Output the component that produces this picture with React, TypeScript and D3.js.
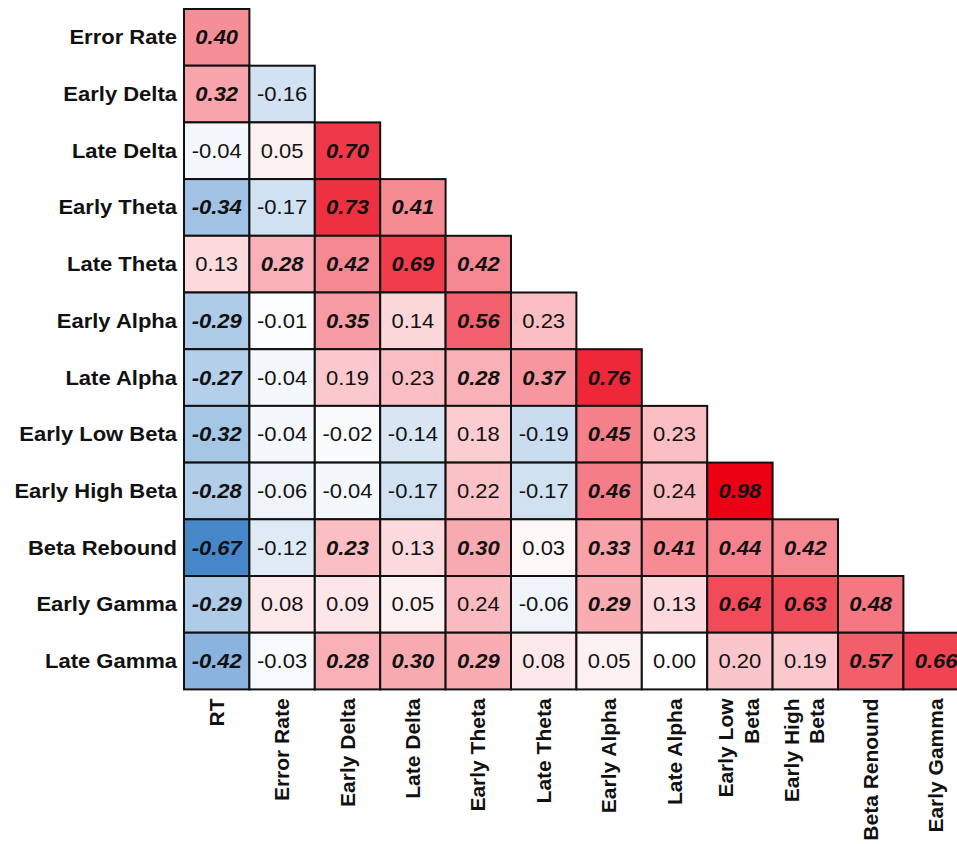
import React from "react";
import * as d3 from "d3";

const rowLabels = [
  "Error Rate", "Early Delta", "Late Delta", "Early Theta", "Late Theta", "Early Alpha",
  "Late Alpha", "Early Low Beta", "Early High Beta", "Beta Rebound", "Early Gamma", "Late Gamma",
];

const colLabels = [
  ["RT"], ["Error Rate"], ["Early Delta"], ["Late Delta"], ["Early Theta"], ["Late Theta"],
  ["Early Alpha"], ["Late Alpha"], ["Early Low", "Beta"], ["Early High", "Beta"], ["Beta Renound"], ["Early Gamma"],
];

const corrValues = [
  [0.40],
  [0.32, -0.16],
  [-0.04, 0.05, 0.70],
  [-0.34, -0.17, 0.73, 0.41],
  [0.13, 0.28, 0.42, 0.69, 0.42],
  [-0.29, -0.01, 0.35, 0.14, 0.56, 0.23],
  [-0.27, -0.04, 0.19, 0.23, 0.28, 0.37, 0.76],
  [-0.32, -0.04, -0.02, -0.14, 0.18, -0.19, 0.45, 0.23],
  [-0.28, -0.06, -0.04, -0.17, 0.22, -0.17, 0.46, 0.24, 0.98],
  [-0.67, -0.12, 0.23, 0.13, 0.30, 0.03, 0.33, 0.41, 0.44, 0.42],
  [-0.29, 0.08, 0.09, 0.05, 0.24, -0.06, 0.29, 0.13, 0.64, 0.63, 0.48],
  [-0.42, -0.03, 0.28, 0.30, 0.29, 0.08, 0.05, 0.00, 0.20, 0.19, 0.57, 0.66],
];

const significant = [
  [1],
  [1, 0],
  [0, 0, 1],
  [1, 0, 1, 1],
  [0, 1, 1, 1, 1],
  [1, 0, 1, 0, 1, 0],
  [1, 0, 0, 0, 1, 1, 1],
  [1, 0, 0, 0, 0, 0, 1, 0],
  [1, 0, 0, 0, 0, 0, 1, 0, 1],
  [1, 0, 1, 0, 1, 0, 1, 1, 1, 1],
  [1, 0, 0, 0, 0, 0, 1, 0, 1, 1, 1],
  [1, 0, 1, 1, 1, 0, 0, 0, 0, 0, 1, 1],
];

const W = 957;
const H = 844;
const X0 = 184;
const CW = 65.4;
const Y0 = 9;
const RH = 56.7;
const FONT = "'Liberation Sans', Arial, Helvetica, sans-serif";
const FS = 20;
const SX = 1.1;
const SXC = 1.05;

function fmt(v: number) {
  return v.toFixed(2);
}

export default function App() {
  const colKeys = colLabels.map((_, i) => String(i));
  const rowKeys = rowLabels.map((_, i) => String(i));
  const x = d3.scaleBand<string>().domain(colKeys).range([X0, X0 + CW * colKeys.length]).padding(0);
  const y = d3.scaleBand<string>().domain(rowKeys).range([Y0, Y0 + RH * rowKeys.length]).padding(0);
  const color = d3
    .scaleLinear<string>()
    .domain([-0.67, 0, 0.9])
    .range(["#4587c9", "#ffffff", "#eb0014"])
    .interpolate(d3.interpolateRgb)
    .clamp(true);

  const cells: any[] = [];
  corrValues.forEach((row, ri) => {
    row.forEach((v, ci) => {
      cells.push({ ri, ci, v, sig: significant[ri][ci] === 1 });
    });
  });

  const bw = x.bandwidth();
  const bh = y.bandwidth();
  const bottom = Y0 + RH * rowKeys.length;

  return (
    <svg
      width={W}
      height={H}
      style={{ position: "absolute", left: 0, top: 0, background: "#fff" }}
      fontFamily={FONT}
    >
      <rect x={0} y={0} width={W} height={H} fill="#fff" />
      {cells.map((c) => {
        const cx = x(String(c.ci))!;
        const cy = y(String(c.ri))!;
        return (
          <rect
            key={`r-${c.ri}-${c.ci}`}
            x={cx}
            y={cy}
            width={bw}
            height={bh}
            fill={color(c.v)}
            stroke="#111"
            strokeWidth={2}
          />
        );
      })}
      {cells.map((c) => {
        const cx = x(String(c.ci))! + bw / 2;
        const cy = y(String(c.ri))! + bh / 2 + 7;
        return (
          <text
            key={`t-${c.ri}-${c.ci}`}
            transform={`translate(${cx},${cy}) scale(${SX},1)`}
            textAnchor="middle"
            fontSize={FS}
            fontWeight={c.sig ? "bold" : "normal"}
            fontStyle={c.sig ? "italic" : "normal"}
            fill="#111"
          >
            {fmt(c.v)}
          </text>
        );
      })}
      {rowLabels.map((lab, i) => (
        <text
          key={`rl-${i}`}
          transform={`translate(${X0 - 7},${y(String(i))! + bh / 2 + 7}) scale(${SX},1)`}
          textAnchor="end"
          fontSize={FS}
          fontWeight="bold"
          fill="#111"
        >
          {lab}
        </text>
      ))}
      {colLabels.map((lines, i) => {
        const cc = x(String(i))! + bw / 2;
        const n = lines.length;
        return lines.map((ln, j) => {
          const off = n === 1 ? 0 : (j - (n - 1) / 2) * 25.8 - 0.8;
          return (
            <text
              key={`cl-${i}-${j}`}
              transform={`translate(${cc + off + 7},${bottom + 9}) rotate(-90) scale(${SXC},1)`}
              textAnchor="end"
              fontSize={FS}
              fontWeight="bold"
              fill="#111"
            >
              {ln}
            </text>
          );
        });
      })}
    </svg>
  );
}
